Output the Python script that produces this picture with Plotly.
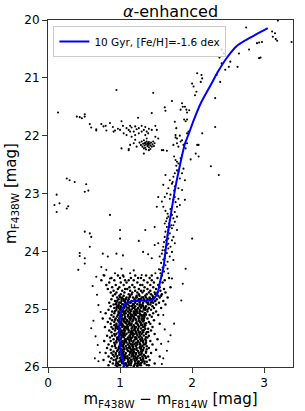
import plotly.graph_objects as go

# ---------------- isochrone (10 Gyr, [Fe/H]=-1.6) ----------------
iso_color = [3.05, 2.90, 2.74, 2.62, 2.49, 2.37, 2.26, 2.12, 2.02, 1.95, 1.90, 1.84, 1.77, 1.70,
             1.65, 1.60, 1.58, 1.56, 1.54, 1.52, 1.49, 1.46, 1.42, 1.37, 1.30, 1.22, 1.15, 1.09,
             1.05, 1.02, 1.00, 0.99, 0.99, 1.00, 1.02, 1.06]
iso_mag = [20.14, 20.24, 20.35, 20.45, 20.64, 20.87, 21.12, 21.44, 21.74, 21.98, 22.14, 22.46, 22.88,
           23.40, 23.80, 24.30, 24.40, 24.50, 24.62, 24.72, 24.79, 24.83, 24.85, 24.855, 24.85,
           24.855, 24.87, 24.90, 24.95, 25.02, 25.12, 25.25, 25.45, 25.62, 25.78, 26.00]

# ---------------- upper red giant branch / AGB stars ----------------
rgb_upper = [(2.75, 20.13), (3.19, 20.01), (3.11, 20.20), (3.15, 20.23), (3.18, 20.36), (3.38, 20.38),
             (2.90, 20.40), (2.93, 20.39), (2.97, 20.38), (2.79, 20.51), (2.65, 20.58), (2.95, 20.65),
             (2.93, 20.66), (2.63, 20.81), (2.41, 20.51), (2.44, 20.58), (2.38, 20.65), (2.53, 20.72),
             (2.51, 20.81), (2.46, 20.86), (2.41, 20.75), (2.34, 20.95), (2.39, 21.07), (2.13, 20.95),
             (2.12, 21.07), (2.07, 20.92), (2.14, 21.01), (2.06, 21.24), (2.00, 21.10), (2.02, 21.15),
             (2.04, 21.30), (2.32, 21.35), (1.86, 21.44), (1.87, 21.50), (1.84, 21.55), (1.90, 21.50),
             (1.92, 21.55), (1.93, 21.60), (1.96, 21.56), (1.62, 21.51), (1.63, 21.57), (1.72, 21.40),
             (1.89, 21.72), (1.91, 21.75), (1.93, 21.72), (1.76, 21.76), (1.78, 21.87), (2.32, 21.85),
             (1.77, 21.99), (1.83, 22.00), (3.12, 20.29), (3.16, 20.33)]

# ---------------- horizontal branch ----------------
hb_stars = [(0.14, 21.60), (0.40, 21.67), (0.44, 21.68), (0.47, 21.70), (0.51, 21.63), (0.51, 21.67),
            (0.95, 21.21), (1.46, 21.26), (1.25, 21.69), (1.44, 21.61), (0.58, 21.80), (0.60, 21.86),
            (0.67, 21.89), (0.74, 21.80), (0.77, 21.84), (0.80, 21.83), (0.86, 21.78), (0.90, 21.85),
            (0.93, 21.91), (0.97, 21.88), (1.02, 21.75), (1.04, 21.83), (1.09, 21.87), (1.12, 21.90),
            (1.14, 21.83), (1.16, 21.86), (1.19, 21.93), (1.21, 21.84), (1.23, 21.89), (1.26, 21.87),
            (1.30, 21.83), (1.33, 21.90), (1.35, 21.85), (1.37, 21.93), (1.40, 21.88), (1.44, 21.90),
            (1.49, 21.83), (1.51, 21.90), (0.67, 21.91), (0.81, 21.91), (0.91, 21.93), (1.00, 21.90),
            (1.05, 21.96), (1.09, 21.99), (1.14, 21.93), (1.16, 22.02), (1.21, 21.99), (1.26, 21.96),
            (1.30, 21.93), (1.35, 21.99), (1.37, 22.05), (1.39, 21.96), (1.49, 22.02), (1.53, 22.05),
            (1.27, 22.12), (1.29, 22.16), (1.30, 22.10), (1.31, 22.19), (1.32, 22.14), (1.33, 22.08),
            (1.34, 22.17), (1.35, 22.12), (1.35, 22.21), (1.36, 22.15), (1.37, 22.10), (1.38, 22.18),
            (1.38, 22.13), (1.39, 22.16), (1.40, 22.11), (1.40, 22.20), (1.41, 22.14), (1.42, 22.17),
            (1.43, 22.12), (1.44, 22.19), (1.45, 22.15), (1.46, 22.10), (1.47, 22.18), (1.48, 22.13),
            (1.36, 22.24), (1.33, 22.22), (1.42, 22.23), (1.34, 22.13), (1.39, 22.13), (1.02, 22.22),
            (1.12, 22.25), (1.14, 22.16), (1.19, 22.13), (1.21, 22.07), (1.23, 22.19), (1.33, 22.31),
            (1.40, 22.25), (1.58, 22.25), (1.60, 22.25), (1.65, 22.26), (1.12, 22.23)]

# ---------------- lower red giant branch ----------------
rgb_lower = [(1.77, 22.03), (1.79, 22.05), (1.74, 22.16), (1.79, 22.13), (1.81, 22.19), (1.84, 22.10),
             (1.86, 22.08), (1.88, 22.16), (1.91, 22.22), (1.93, 22.13), (1.93, 21.96), (1.95, 21.93),
             (2.05, 22.31), (2.09, 22.36), (2.07, 22.16), (2.09, 22.16), (1.98, 22.41), (2.14, 21.96),
             (2.26, 22.53), (2.37, 22.68), (1.75, 22.36), (1.77, 22.42), (1.79, 22.45), (1.81, 22.48),
             (1.84, 22.39), (1.86, 22.34), (1.63, 22.68), (1.69, 22.77), (1.72, 22.83), (1.74, 22.71),
             (1.76, 22.65), (1.79, 22.60), (1.81, 22.62), (1.83, 22.74), (1.86, 22.65), (1.88, 22.57),
             (1.90, 22.77), (1.76, 22.88), (1.81, 22.91), (1.86, 22.94), (1.67, 22.91), (1.65, 23.00),
             (1.62, 23.06), (1.69, 23.09), (1.74, 23.11), (1.76, 23.06), (1.81, 23.09), (1.90, 23.11),
             (1.83, 23.20), (1.79, 23.23), (1.76, 23.32), (1.72, 23.37), (1.67, 23.40), (1.65, 23.43),
             (1.69, 23.46), (1.74, 23.43), (1.79, 23.40), (1.62, 23.52), (1.65, 23.58), (1.67, 23.63),
             (1.72, 23.60), (1.74, 23.55), (1.76, 23.49), (1.79, 23.63), (1.69, 23.69), (1.62, 23.75),
             (1.67, 23.78), (1.72, 23.81), (1.74, 23.75), (1.76, 23.86), (1.65, 23.89), (1.60, 23.92),
             (1.62, 23.98), (1.67, 23.95), (1.72, 24.01), (1.58, 24.04), (1.55, 24.09), (1.62, 24.12),
             (1.69, 24.09), (1.74, 24.15), (1.53, 23.86), (1.48, 23.89), (1.51, 23.23), (1.53, 23.06),
             (1.48, 23.58), (1.60, 23.23), (1.58, 23.14), (1.60, 22.85), (1.63, 23.30), (1.66, 23.35),
             (1.70, 23.27), (1.64, 23.48), (1.68, 23.52), (1.71, 23.55), (1.63, 23.66), (1.66, 23.72),
             (1.69, 23.58), (1.61, 23.84), (1.64, 23.81), (1.67, 23.87), (1.70, 23.92), (1.59, 23.98),
             (1.65, 24.03), (1.62, 24.06), (1.60, 24.14), (1.66, 24.18), (1.57, 24.20), (1.63, 24.24),
             (1.59, 24.28), (1.54, 24.31), (1.61, 24.35), (1.56, 24.38), (1.66, 24.30), (1.78, 22.52),
             (1.73, 22.80), (1.75, 22.95), (1.70, 23.02), (1.77, 23.15)]

# ---------------- field / scattered stars ----------------
field_stars = [(0.26, 22.74), (0.30, 22.77), (0.37, 22.80), (0.53, 22.84), (0.51, 22.97), (0.56, 22.95),
               (0.12, 23.02), (0.09, 23.20), (0.16, 23.17), (0.12, 23.32), (0.26, 23.26), (0.28, 23.22),
               (0.86, 23.37), (1.00, 23.63), (1.00, 23.78), (0.51, 23.66), (0.58, 23.69), (0.60, 23.75),
               (0.58, 23.92), (1.35, 23.63), (1.26, 23.82), (2.00, 23.78), (0.44, 24.03), (0.44, 24.08),
               (0.51, 24.12), (0.76, 24.04), (0.83, 24.09), (0.95, 24.04), (1.04, 24.07), (1.32, 24.01),
               (1.39, 24.05), (1.44, 24.12), (0.51, 24.21), (0.42, 24.32), (0.67, 24.44), (0.74, 24.27),
               (0.77, 24.41), (0.81, 24.32), (0.86, 24.47), (0.93, 24.38), (1.02, 24.30), (1.05, 24.44),
               (1.14, 24.38), (1.19, 24.33), (1.30, 24.41), (1.49, 24.38), (1.56, 24.32), (1.67, 24.38),
               (1.72, 24.47), (1.87, 24.56), (1.91, 24.30), (0.63, 25.20), (0.66, 25.47), (0.70, 24.93),
               (0.69, 25.62), (0.72, 25.75), (0.70, 25.90), (0.65, 25.85), (0.60, 25.33), (0.73, 25.05),
               (1.60, 25.10), (1.62, 25.35), (1.57, 25.60), (1.65, 25.72), (1.60, 25.85), (1.70, 25.45),
               (1.75, 25.25), (1.85, 24.85), (1.58, 25.95), (1.67, 25.56), (0.68, 24.75), (0.62, 24.60)]

# ---------------- sub-giant branch and main sequence (rows of stars) ----------------
ms_rows_mag = [24.42, 24.46, 24.50, 24.54, 24.58, 24.62, 24.65, 24.68, 24.71, 24.74, 24.77, 24.80,
               24.83, 24.86, 24.89, 24.92, 24.95, 24.98, 25.01, 25.04, 25.07, 25.10, 25.13, 25.16,
               25.19, 25.22, 25.25, 25.28, 25.31, 25.34, 25.37, 25.40, 25.43, 25.46, 25.49, 25.52,
               25.55, 25.58, 25.61, 25.64, 25.67, 25.70, 25.73, 25.76, 25.79, 25.82, 25.85, 25.88,
               25.91, 25.94, 25.97]
ms_rows_color = [
    [0.78, 0.97, 1.04, 1.21, 1.36, 1.44, 1.58],
    [0.88, 1.00, 1.15, 1.25, 1.29, 1.41, 1.52, 1.68],
    [0.74, 0.92, 1.07, 1.12, 1.19, 1.33, 1.44, 1.62],
    [0.85, 1.01, 1.09, 1.24, 1.38, 1.47, 1.59],
    [0.81, 0.94, 1.05, 1.17, 1.28, 1.31, 1.42, 1.53],
    [0.89, 0.99, 1.13, 1.20, 1.34, 1.46, 1.55, 1.70],
    [0.83, 0.97, 1.07, 1.10, 1.26, 1.38, 1.50, 1.61],
    [0.91, 1.03, 1.14, 1.21, 1.29, 1.33, 1.42, 1.56],
    [0.87, 0.95, 1.06, 1.17, 1.24, 1.31, 1.40, 1.48, 1.52, 1.63],
    [0.93, 1.01, 1.12, 1.16, 1.26, 1.37, 1.43, 1.49, 1.58],
    [0.90, 0.99, 1.05, 1.14, 1.23, 1.27, 1.35, 1.45, 1.53, 1.57],
    [0.96, 1.03, 1.09, 1.18, 1.22, 1.30, 1.36, 1.41, 1.47, 1.55, 1.66],
    [0.88, 0.98, 1.05, 1.12, 1.20, 1.26, 1.33, 1.38, 1.43, 1.51],
    [0.93, 1.02, 1.07, 1.16, 1.24, 1.28, 1.36, 1.44, 1.49, 1.60],
    [0.85, 0.95, 1.01, 1.10, 1.14, 1.21, 1.32, 1.39, 1.46, 1.54],
    [0.91, 0.98, 1.05, 1.11, 1.19, 1.28, 1.31, 1.42, 1.50, 1.63],
    [0.87, 0.96, 1.01, 1.08, 1.16, 1.21, 1.30, 1.36, 1.45],
    [0.92, 0.98, 1.06, 1.12, 1.18, 1.25, 1.33, 1.40, 1.47, 1.57],
    [0.84, 0.95, 1.01, 1.09, 1.13, 1.21, 1.27, 1.35, 1.43],
    [0.89, 0.98, 1.04, 1.11, 1.19, 1.24, 1.31, 1.38, 1.50],
    [0.80, 0.92, 1.00, 1.08, 1.14, 1.21, 1.27, 1.35, 1.46],
    [0.88, 0.97, 1.03, 1.11, 1.17, 1.22, 1.30, 1.33, 1.41, 1.53],
    [0.91, 1.00, 1.07, 1.14, 1.19, 1.27, 1.34, 1.44],
    [0.76, 0.86, 0.94, 1.03, 1.06, 1.15, 1.21, 1.30, 1.38],
    [0.89, 0.97, 1.05, 1.10, 1.18, 1.26, 1.33, 1.47],
    [0.83, 0.92, 1.01, 1.07, 1.13, 1.23, 1.28, 1.40],
    [0.87, 0.95, 1.03, 1.12, 1.16, 1.24, 1.34, 1.42, 1.55],
    [0.92, 1.00, 1.04, 1.14, 1.19, 1.29, 1.35],
    [0.79, 0.88, 0.94, 1.03, 1.08, 1.17, 1.22, 1.32, 1.45],
    [0.90, 0.97, 1.06, 1.11, 1.20, 1.25, 1.35, 1.39],
    [0.85, 0.93, 1.02, 1.07, 1.16, 1.21, 1.31, 1.43],
    [0.88, 0.98, 1.03, 1.12, 1.17, 1.26, 1.32, 1.37],
    [0.92, 1.01, 1.06, 1.15, 1.20, 1.27, 1.36, 1.48],
    [0.82, 0.89, 0.99, 1.04, 1.13, 1.18, 1.28, 1.40],
    [0.86, 0.96, 1.02, 1.11, 1.17, 1.22, 1.30, 1.38],
    [0.91, 0.98, 1.07, 1.12, 1.21, 1.28, 1.35, 1.52],
    [0.78, 0.87, 0.95, 1.03, 1.08, 1.16, 1.25, 1.32, 1.42],
    [0.92, 1.01, 1.06, 1.13, 1.22, 1.27, 1.36],
    [0.84, 0.93, 1.02, 1.11, 1.17, 1.24, 1.33, 1.45],
    [0.89, 0.99, 1.04, 1.13, 1.18, 1.28, 1.37],
    [0.82, 0.94, 1.00, 1.09, 1.14, 1.23, 1.29, 1.40],
    [0.87, 0.97, 1.03, 1.10, 1.18, 1.23, 1.32, 1.50],
    [0.91, 1.00, 1.05, 1.14, 1.19, 1.29, 1.36],
    [0.80, 0.88, 0.94, 1.03, 1.08, 1.17, 1.22, 1.30, 1.43],
    [0.90, 0.99, 1.04, 1.13, 1.18, 1.27, 1.33],
    [0.84, 0.92, 1.02, 1.07, 1.16, 1.21, 1.31, 1.39, 1.55],
    [0.88, 0.96, 1.05, 1.10, 1.19, 1.24, 1.32],
    [0.77, 0.91, 1.01, 1.06, 1.15, 1.20, 1.29, 1.41],
    [0.86, 0.95, 1.02, 1.11, 1.16, 1.25, 1.31, 1.37],
    [0.90, 0.97, 1.07, 1.12, 1.21, 1.26, 1.34, 1.48],
    [0.84, 0.94, 1.00, 1.09, 1.15, 1.24, 1.29, 1.40],
]

# second, interleaved set of rows filling the dense main-sequence core
core_rows_mag = [24.795, 24.825, 24.855, 24.885, 24.915, 24.945, 24.975, 25.005, 25.035, 25.065,
                 25.095, 25.125, 25.155, 25.185, 25.215, 25.245, 25.275, 25.305, 25.335, 25.365,
                 25.395, 25.425, 25.455, 25.485, 25.515, 25.545, 25.575, 25.605, 25.635, 25.665,
                 25.695, 25.725, 25.755, 25.785, 25.815, 25.845, 25.875, 25.905, 25.935, 25.965,
                 25.990]
core_rows_color = [
    [1.00, 1.13, 1.23, 1.32, 1.46],
    [1.02, 1.08, 1.26, 1.29, 1.41, 1.45],
    [0.96, 1.05, 1.11, 1.22, 1.34, 1.48],
    [0.99, 1.07, 1.15, 1.27, 1.37, 1.43],
    [0.94, 1.03, 1.08, 1.18, 1.24, 1.39],
    [0.98, 1.06, 1.13, 1.17, 1.27, 1.32],
    [0.95, 1.01, 1.10, 1.20, 1.29, 1.35],
    [1.00, 1.04, 1.16, 1.23, 1.33, 1.38],
    [0.93, 1.03, 1.07, 1.15, 1.22, 1.28],
    [0.98, 1.05, 1.13, 1.19, 1.24, 1.34],
    [1.01, 1.06, 1.15, 1.20, 1.28, 1.36],
    [0.96, 1.02, 1.11, 1.16, 1.25, 1.31],
    [0.99, 1.07, 1.13, 1.19, 1.26, 1.33],
    [0.93, 1.02, 1.09, 1.14, 1.22, 1.30],
    [0.98, 1.05, 1.10, 1.17, 1.27, 1.32],
    [1.01, 1.08, 1.13, 1.22, 1.29, 1.36],
    [0.95, 1.02, 1.10, 1.15, 1.25, 1.31],
    [0.97, 1.06, 1.11, 1.20, 1.26, 1.34],
    [0.94, 1.00, 1.09, 1.16, 1.21, 1.29],
    [0.99, 1.05, 1.12, 1.19, 1.25, 1.33],
    [1.01, 1.06, 1.15, 1.22, 1.28, 1.39],
    [0.95, 1.04, 1.09, 1.18, 1.23, 1.30],
    [0.93, 1.02, 1.07, 1.14, 1.24, 1.33],
    [0.98, 1.05, 1.14, 1.21, 1.26, 1.36],
    [0.96, 1.01, 1.10, 1.15, 1.23, 1.31],
    [0.99, 1.06, 1.13, 1.19, 1.29, 1.36],
    [0.95, 1.04, 1.09, 1.18, 1.24, 1.32],
    [1.00, 1.05, 1.15, 1.20, 1.28, 1.35],
    [0.93, 1.03, 1.08, 1.17, 1.22, 1.31],
    [0.98, 1.05, 1.12, 1.18, 1.27, 1.33],
    [1.01, 1.06, 1.15, 1.20, 1.29, 1.37],
    [0.96, 1.02, 1.11, 1.16, 1.25, 1.31],
    [0.99, 1.04, 1.14, 1.19, 1.26, 1.36],
    [0.94, 1.02, 1.07, 1.17, 1.22, 1.29],
    [0.96, 1.05, 1.10, 1.19, 1.25, 1.35],
    [1.00, 1.07, 1.13, 1.22, 1.28, 1.36],
    [0.94, 1.02, 1.11, 1.16, 1.23, 1.32],
    [0.99, 1.04, 1.13, 1.21, 1.26, 1.34],
    [0.95, 1.03, 1.08, 1.15, 1.24, 1.29],
    [0.98, 1.07, 1.12, 1.20, 1.27, 1.37],
    [0.96, 1.05, 1.10, 1.19, 1.24],
]

x_ticks = [0, 1, 2, 3]
y_ticks = [20, 21, 22, 23, 24, 25, 26]

# ---------------- assemble star lists ----------------
sparse_x, sparse_y = [], []
for group in (rgb_upper, hb_stars, rgb_lower, field_stars):
    for cx, my in group:
        sparse_x.append(cx)
        sparse_y.append(my)
dense_x, dense_y = [], []
for mags, colors in ((ms_rows_mag, ms_rows_color), (core_rows_mag, core_rows_color)):
    for my, row in zip(mags, colors):
        for cx in row:
            dense_x.append(cx)
            dense_y.append(my)

FONT = "DejaVu Sans"
AX = "#333333"

fig = go.Figure()
fig.add_trace(go.Scatter(
    x=sparse_x, y=sparse_y, mode="markers", showlegend=False,
    marker=dict(color="black", size=2.1, line=dict(width=0)),
    hoverinfo="skip"))
fig.add_trace(go.Scatter(
    x=dense_x, y=dense_y, mode="markers", showlegend=False,
    marker=dict(color="black", size=2.5, line=dict(width=0)),
    hoverinfo="skip"))
fig.add_trace(go.Scatter(
    x=iso_color, y=iso_mag, mode="lines", name="10 Gyr, [Fe/H]=-1.6 dex",
    line=dict(color="#0000ff", width=2, shape="spline", smoothing=0.8)))

fig.update_layout(
    width=305, height=411,
    margin=dict(l=48, r=12, t=20, b=44),
    paper_bgcolor="white", plot_bgcolor="white",
    font=dict(family=FONT, color="black", size=12),
    title=dict(text="<i>α</i>-enhanced", x=0.5, xref="paper", xanchor="center",
               y=1 - 11 / 411, yref="container", yanchor="middle",
               font=dict(family=FONT, size=16, color="black")),
    legend=dict(x=0.022, y=0.983, xanchor="left", yanchor="top",
                bgcolor="rgba(255,255,255,0.8)", bordercolor="#cccccc", borderwidth=1,
                font=dict(family=FONT, size=10.5, color="black"),
                itemwidth=30, tracegroupgap=0),
)
fig.update_xaxes(
    range=[0, 3.4], tickvals=x_ticks, ticktext=[str(v) for v in x_ticks],
    ticks="outside", ticklen=5, tickwidth=1, tickcolor=AX,
    showline=True, linecolor=AX, linewidth=1, mirror=True,
    showgrid=False, zeroline=False, automargin=False,
    tickfont=dict(family=FONT, size=12, color="black"),
    title=dict(text="m<sub>F438W</sub> − m<sub>F814W</sub> [mag]",
               font=dict(family=FONT, size=15, color="black"), standoff=3),
)
fig.update_yaxes(
    range=[26, 20], tickvals=y_ticks, ticktext=[str(v) for v in y_ticks],
    ticks="outside", ticklen=5, tickwidth=1, tickcolor=AX,
    showline=True, linecolor=AX, linewidth=1, mirror=True,
    showgrid=False, zeroline=False, automargin=False,
    tickfont=dict(family=FONT, size=12, color="black"),
    title=dict(text="m<sub>F438W</sub> [mag]",
               font=dict(family=FONT, size=15, color="black"), standoff=4),
)

fig.write_html("out.html", config={"displayModeBar": False},
               post_script="document.body.style.margin='0px';")
